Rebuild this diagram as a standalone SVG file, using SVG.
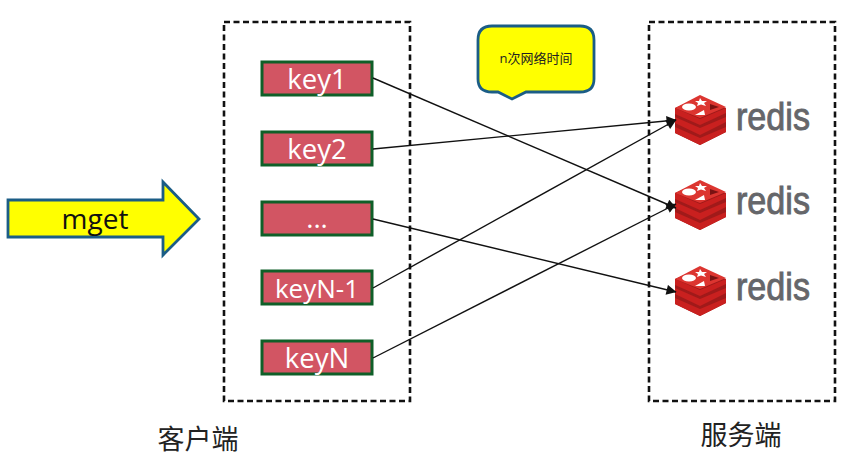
<svg xmlns="http://www.w3.org/2000/svg" width="865" height="463" viewBox="0 0 865 463">
<style>
.frame{fill:none;stroke:#111;stroke-width:2.6;stroke-dasharray:6 3.5}
.key{fill:#d25563;stroke:#0f5f28;stroke-width:3}
.kt{font-family:"Open Sans","Noto Sans",sans-serif;font-size:27.5px;fill:#fff;text-anchor:middle}
.cn{font-family:"Noto Sans CJK SC",sans-serif;font-size:27px;fill:#222;text-anchor:middle}
.conn{fill:none;stroke:#111;stroke-width:1.4;marker-end:url(#arr)}
.rt{font-family:"Liberation Sans",sans-serif;font-size:38px;fill:#65666a;stroke:#65666a;stroke-width:.9;text-anchor:start}
.r1{fill:#c9201f}.r2{fill:#a01a1a}.r3{fill:#dc3530}
</style>
<defs>
<marker id="arr" viewBox="0 0 10 10" refX="9.5" refY="5" markerWidth="12" markerHeight="10" markerUnits="userSpaceOnUse" orient="auto"><path d="M0 0L10 5L0 10Z" fill="#111"/></marker>
<g id="logo">
<path class="r2" d="M0 13L25 2L51 13V37L25 50L0 38Z"/>
<path class="r1" d="M0 32L25 43L51 32V37L25 50L0 38Z"/>
<path class="r1" d="M0 22L25 33L51 22V27L25 40L0 28Z"/>
<path class="r1" d="M0 13L25 24L51 13V18L25 30L0 19Z"/>
<path class="r3" d="M0 13L25 0L51 12L25 23Z"/>
<ellipse cx="14" cy="12" rx="7" ry="3.5" fill="#fff"/>
<path d="M20 20L29 15L30 20Z" fill="#fff"/>
<path d="M25 3L27 6L32 6L29 8L31 11L26 9.500L22 11L23 8L20 6L24 6Z" fill="#fff"/>
<path d="M35 9L44 12L35 15Z" fill="#7a1212"/>
</g>
</defs>
<rect width="865" height="463" fill="#fff"/>
<g id="client"><rect class="frame" x="224" y="22" width="186" height="379"/><text class="cn" x="198" y="449">客户端</text></g>
<g id="server"><rect class="frame" x="649" y="22" width="186" height="379"/><text class="cn" x="741" y="445">服务端</text></g>
<g id="mget"><path d="M8 200H163V182L199 219L163 255V237H8Z" fill="#ffff00" stroke="#1b5d86" stroke-width="2.8"/><text x="95" y="229" font-family="Open Sans,Noto Sans,sans-serif" font-size="28" fill="#111" text-anchor="middle">mget</text></g>
<g id="note"><path d="M492 26H580Q594 26 594 40V79Q594 92 580 92H526L512 99L498 92H492Q478 92 478 79V40Q478 26 492 26Z" fill="#ffff00" stroke="#1b5d86" stroke-width="2.8"/><text x="536" y="63" font-family="Open Sans,Noto Sans CJK SC,sans-serif" font-size="13" fill="#222" text-anchor="middle">n次网络时间</text></g>
<g id="key1"><rect class="key" x="262" y="62" width="110" height="33"/><text class="kt" x="317" y="89">key1</text></g>
<g id="key2"><rect class="key" x="262" y="132" width="110" height="33"/><text class="kt" x="317" y="159">key2</text></g>
<g id="key3"><rect class="key" x="262" y="202" width="110" height="33"/><text class="kt" x="317" y="228">...</text></g>
<g id="keyn1"><rect class="key" x="262" y="271" width="110" height="33"/><text class="kt" x="317" y="298" style="font-size:26px">keyN-1</text></g>
<g id="keyn"><rect class="key" x="262" y="341" width="110" height="33"/><text class="kt" x="317" y="368">keyN</text></g>
<g id="redis1"><use href="#logo" x="675" y="95"/><text class="rt" x="736" y="130" textLength="74" lengthAdjust="spacingAndGlyphs">redis</text></g>
<g id="redis2"><use href="#logo" x="675" y="180"/><text class="rt" x="736" y="214" textLength="74" lengthAdjust="spacingAndGlyphs">redis</text></g>
<g id="redis3"><use href="#logo" x="675" y="266"/><text class="rt" x="736" y="300" textLength="74" lengthAdjust="spacingAndGlyphs">redis</text></g>
<g id="connectors">
<path class="conn" d="M373 78L676 208"/>
<path class="conn" d="M373 149L676 120"/>
<path class="conn" d="M373 219L676 292"/>
<path class="conn" d="M373 288L676 120"/>
<path class="conn" d="M373 358L676 204"/>
</g>
</svg>
